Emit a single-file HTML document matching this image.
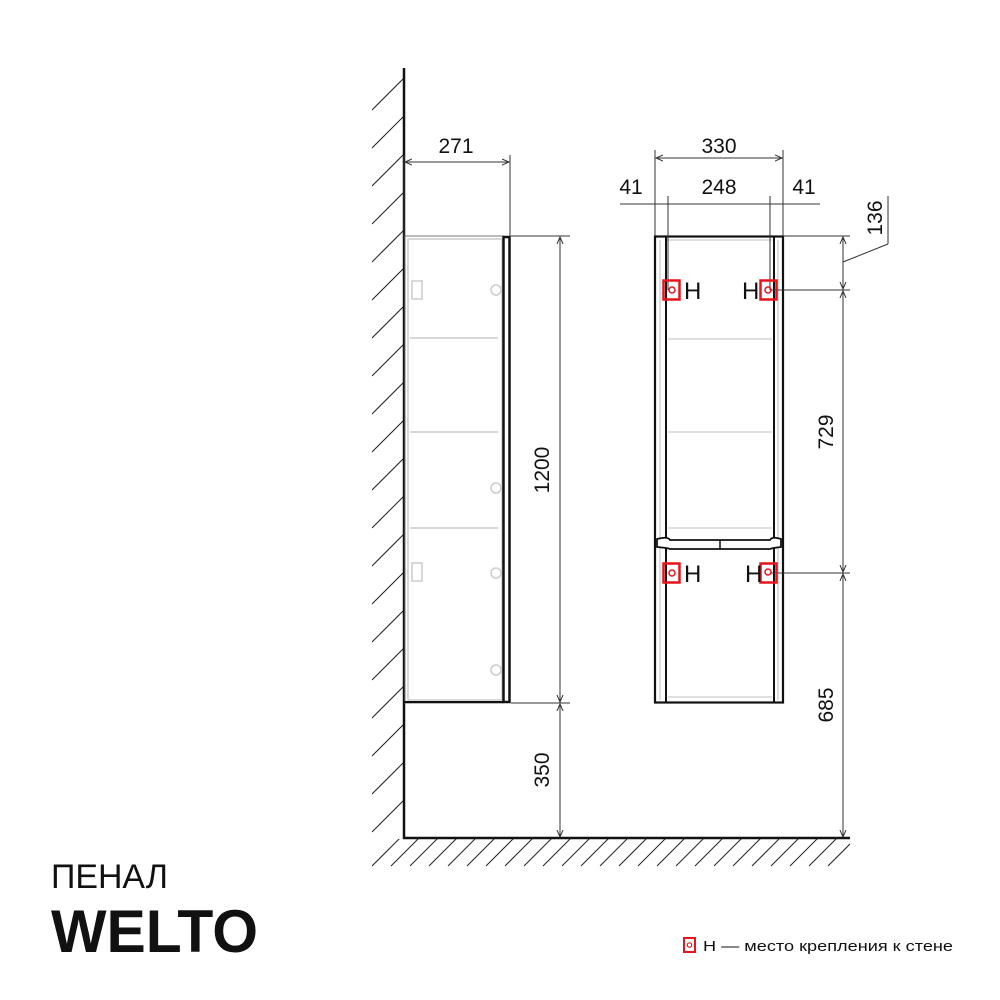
<!DOCTYPE html>
<html><head><meta charset="utf-8"><style>
html,body{margin:0;padding:0;background:#fff;}
svg{display:block;}
text{font-family:"Liberation Sans","DejaVu Sans",sans-serif;fill:#111;}
</style></head><body>
<svg width="1000" height="1000" viewBox="0 0 1000 1000" xmlns="http://www.w3.org/2000/svg">
<defs>
<marker id="a" markerWidth="8" markerHeight="8" refX="7" refY="4" orient="auto-start-reverse" markerUnits="userSpaceOnUse"><path d="M0,1 L7,4 L0,7" fill="none" stroke="#333" stroke-width="1"/></marker>
<clipPath id="cw"><rect x="372" y="68" width="32" height="770"/></clipPath>
<clipPath id="cf"><rect x="372" y="839" width="478" height="28"/></clipPath>
</defs>
<!-- wall hatch -->
<g clip-path="url(#cw)" stroke="#222" stroke-width="1">
<line x1="372" y1="110" x2="404" y2="78"/><line x1="372" y1="148" x2="404" y2="116"/><line x1="372" y1="186" x2="404" y2="154"/><line x1="372" y1="224" x2="404" y2="192"/><line x1="372" y1="262" x2="404" y2="230"/><line x1="372" y1="300" x2="404" y2="268"/><line x1="372" y1="338" x2="404" y2="306"/><line x1="372" y1="376" x2="404" y2="344"/><line x1="372" y1="414" x2="404" y2="382"/><line x1="372" y1="452" x2="404" y2="420"/><line x1="372" y1="490" x2="404" y2="458"/><line x1="372" y1="528" x2="404" y2="496"/><line x1="372" y1="566" x2="404" y2="534"/><line x1="372" y1="604" x2="404" y2="572"/><line x1="372" y1="642" x2="404" y2="610"/><line x1="372" y1="680" x2="404" y2="648"/><line x1="372" y1="718" x2="404" y2="686"/><line x1="372" y1="756" x2="404" y2="724"/><line x1="372" y1="794" x2="404" y2="762"/><line x1="372" y1="832" x2="404" y2="800"/><line x1="372" y1="870" x2="404" y2="838"/>
</g>
<!-- floor hatch -->
<g clip-path="url(#cf)" stroke="#222" stroke-width="1">
<line x1="372" y1="866" x2="400" y2="838"/><line x1="391" y1="866" x2="419" y2="838"/><line x1="410" y1="866" x2="438" y2="838"/><line x1="429" y1="866" x2="457" y2="838"/><line x1="448" y1="866" x2="476" y2="838"/><line x1="467" y1="866" x2="495" y2="838"/><line x1="486" y1="866" x2="514" y2="838"/><line x1="505" y1="866" x2="533" y2="838"/><line x1="524" y1="866" x2="552" y2="838"/><line x1="543" y1="866" x2="571" y2="838"/><line x1="562" y1="866" x2="590" y2="838"/><line x1="581" y1="866" x2="609" y2="838"/><line x1="600" y1="866" x2="628" y2="838"/><line x1="619" y1="866" x2="647" y2="838"/><line x1="638" y1="866" x2="666" y2="838"/><line x1="657" y1="866" x2="685" y2="838"/><line x1="676" y1="866" x2="704" y2="838"/><line x1="695" y1="866" x2="723" y2="838"/><line x1="714" y1="866" x2="742" y2="838"/><line x1="733" y1="866" x2="761" y2="838"/><line x1="752" y1="866" x2="780" y2="838"/><line x1="771" y1="866" x2="799" y2="838"/><line x1="790" y1="866" x2="818" y2="838"/><line x1="809" y1="866" x2="837" y2="838"/><line x1="828" y1="866" x2="856" y2="838"/>
</g>
<line x1="404" y1="68" x2="404" y2="839" stroke="#111" stroke-width="2.5"/>
<line x1="403" y1="838" x2="850" y2="838" stroke="#111" stroke-width="2.5"/>

<!-- left cabinet side view -->
<g fill="none" stroke="#ccc" stroke-width="1.5">
<rect x="408" y="239" width="94" height="461"/>
<line x1="410" y1="338" x2="498" y2="338"/><line x1="410" y1="432" x2="498" y2="432"/><line x1="410" y1="528" x2="498" y2="528"/>
<rect x="412" y="281" width="10" height="18"/><rect x="412" y="563" width="10" height="18"/>
<circle cx="496" cy="290" r="5"/><circle cx="496" cy="488" r="5"/><circle cx="496" cy="573" r="5"/><circle cx="496" cy="670" r="5"/>
</g>
<rect x="405" y="236" width="98" height="467" fill="none" stroke="#777" stroke-width="1"/>
<line x1="404" y1="702" x2="505" y2="702" stroke="#111" stroke-width="2"/>
<rect x="503.5" y="237" width="6" height="465" fill="none" stroke="#111" stroke-width="2.5"/>

<!-- 271 -->
<g stroke="#333" stroke-width="1" fill="none">
<line x1="404" y1="155" x2="404" y2="236"/><line x1="510" y1="155" x2="510" y2="236"/>
<line x1="405" y1="162" x2="509" y2="162" marker-start="url(#a)" marker-end="url(#a)"/>
<line x1="511" y1="236" x2="570" y2="236"/><line x1="511" y1="703" x2="570" y2="703"/>
<line x1="560" y1="237" x2="560" y2="702" marker-start="url(#a)" marker-end="url(#a)"/>
<line x1="560" y1="704" x2="560" y2="837" marker-start="url(#a)" marker-end="url(#a)"/>
</g>
<text x="456" y="153" font-size="21" text-anchor="middle">271</text>
<text transform="translate(549,470) rotate(-90)" font-size="21" text-anchor="middle">1200</text>
<text transform="translate(549,770) rotate(-90)" font-size="21" text-anchor="middle">350</text>

<!-- right cabinet front -->
<g fill="none" stroke="#ccc" stroke-width="1.3">
<line x1="660" y1="240" x2="660" y2="700"/><line x1="778" y1="240" x2="778" y2="700"/>
<line x1="666" y1="240" x2="772" y2="240"/>
<line x1="668" y1="339" x2="772" y2="339"/><line x1="668" y1="432" x2="772" y2="432"/>
<line x1="668" y1="528" x2="772" y2="528"/><line x1="668" y1="697" x2="772" y2="697"/>
</g>
<rect x="655" y="236.5" width="128" height="466" fill="none" stroke="#111" stroke-width="2.2"/>
<line x1="666" y1="237" x2="666" y2="702" stroke="#111" stroke-width="2"/>
<line x1="774" y1="237" x2="774" y2="702" stroke="#111" stroke-width="2"/>
<path d="M657,539 Q668,536 670,540 L770,540 Q772,536 781,539 L781,547 Q772,548 770,549 L670,549 Q668,548 657,547 Z" fill="#fff" stroke="#111" stroke-width="1.8"/>
<line x1="720" y1="540" x2="720" y2="549" stroke="#111" stroke-width="1.5"/>

<!-- dims top -->
<g stroke="#333" stroke-width="1" fill="none">
<line x1="655" y1="150" x2="655" y2="236"/><line x1="783" y1="150" x2="783" y2="236"/>
<line x1="668" y1="196" x2="668" y2="290"/><line x1="770" y1="196" x2="770" y2="290"/>
<line x1="656" y1="158" x2="782" y2="158" marker-start="url(#a)" marker-end="url(#a)"/>
<line x1="620" y1="204" x2="820" y2="204"/>
<line x1="783" y1="236" x2="850" y2="236"/>
<line x1="770" y1="290" x2="850" y2="290"/>
<line x1="770" y1="573" x2="850" y2="573"/>
<line x1="843" y1="237" x2="843" y2="289" marker-start="url(#a)" marker-end="url(#a)"/>
<line x1="843" y1="291" x2="843" y2="572" marker-start="url(#a)" marker-end="url(#a)"/>
<line x1="843" y1="574" x2="843" y2="837" marker-start="url(#a)" marker-end="url(#a)"/>
<line x1="843" y1="262" x2="888" y2="244"/><line x1="888" y1="244" x2="888" y2="196"/>
</g>
<text x="719" y="153" font-size="21" text-anchor="middle">330</text>
<text x="719" y="194" font-size="21" text-anchor="middle">248</text>
<text x="631" y="194" font-size="21" text-anchor="middle">41</text>
<text x="804" y="194" font-size="21" text-anchor="middle">41</text>
<text transform="translate(882,218) rotate(-90)" font-size="21" text-anchor="middle">136</text>
<text transform="translate(833,432) rotate(-90)" font-size="21" text-anchor="middle">729</text>
<text transform="translate(833,705) rotate(-90)" font-size="21" text-anchor="middle">685</text>

<!-- H markers -->
<g fill="none" stroke="#e8141c">
<rect x="663.5" y="280.5" width="16" height="19" stroke-width="2.5"/><circle cx="672" cy="290" r="3" stroke-width="1.5"/>
<rect x="760.5" y="280.5" width="16" height="19" stroke-width="2.5"/><circle cx="768" cy="290" r="3" stroke-width="1.5"/>
<rect x="663.5" y="563.5" width="16" height="19" stroke-width="2.5"/><circle cx="672" cy="573" r="3" stroke-width="1.5"/>
<rect x="760.5" y="563.5" width="16" height="19" stroke-width="2.5"/><circle cx="768" cy="572" r="3" stroke-width="1.5"/>
</g>
<text x="684" y="299" font-size="24">H</text>
<text x="742" y="299" font-size="24">H</text>
<text x="684" y="582" font-size="24">H</text>
<text x="745" y="582" font-size="24">H</text>

<text x="51" y="888" font-size="34" font-weight="300" textLength="117" lengthAdjust="spacingAndGlyphs" style="font-weight:normal">ПЕНАЛ</text>
<text x="51" y="952" font-size="60" font-weight="bold" textLength="207" lengthAdjust="spacingAndGlyphs">WELTO</text>

<rect x="684" y="938" width="11" height="14" fill="none" stroke="#e8141c" stroke-width="2"/>
<circle cx="689.5" cy="945" r="2.2" fill="none" stroke="#e8141c" stroke-width="1.2"/>
<text x="703" y="951" font-size="15" textLength="250" lengthAdjust="spacingAndGlyphs">Н — место крепления к стене</text>
</svg>
</body></html>
